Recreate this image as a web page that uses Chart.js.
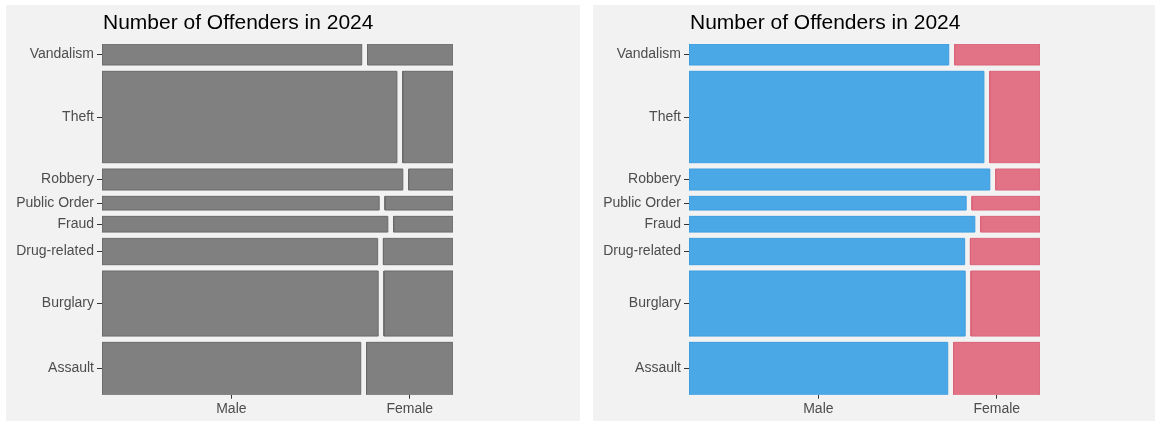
<!DOCTYPE html>
<html>
<head>
<meta charset="utf-8">
<script src="https://cdn.jsdelivr.net/npm/chart.js@4.4.1/dist/chart.umd.min.js"></script>
<style>
  body { margin: 0; background: #fff; width: 1159px; height: 421px; overflow: hidden; position: relative; }
  .panel { position: absolute; top: 5px; height: 416px; background: #f2f2f2; }
  #left { left: 6px; width: 574px; }
  #right { left: 593px; width: 562px; }
  canvas { display: block; }
</style>
</head>
<body>
<div class="panel" id="left"><canvas id="chart1" width="574" height="416"></canvas></div>
<div class="panel" id="right"><canvas id="chart2" width="562" height="416"></canvas></div>
<script>
// rows from bottom to top
const categories = ['Assault', 'Burglary', 'Drug-related', 'Fraud', 'Public Order', 'Robbery', 'Theft', 'Vandalism'];
const maleCounts = [392, 520, 210, 130, 110, 183, 780, 158];
const femaleCounts = [131, 130, 53, 27, 27, 27, 133, 52];
const genders = ['Male', 'Female'];
const chartTitle = 'Number of Offenders in 2024';

const fontFamily = '"Liberation Sans", Arial, Helvetica, sans-serif';
const gapX = 0.0165;
const gapY = 0.018;

const grandTotal = maleCounts.reduce((a, b) => a + b, 0) + femaleCounts.reduce((a, b) => a + b, 0);
const usableY = 1 - gapY * (categories.length - 1);

// build the mosaic tiles from the counts
const tiles = [];
const rowCenters = [];
let cum = 0;
categories.forEach((cat, i) => {
    const total = maleCounts[i] + femaleCounts[i];
    const h = total / grandTotal * usableY;
    const split = maleCounts[i] / total * (1 - gapX);
    tiles.push({ gender: 0, x0: 0, x1: split, y0: cum, y1: cum + h });
    tiles.push({ gender: 1, x0: split + gapX, x1: 1, y0: cum, y1: cum + h });
    rowCenters.push(cum + h / 2);
    cum += h + gapY;
});

// x axis ticks sit under the bottom row
const xTicks = [tiles[0].x1 / 2, (tiles[1].x0 + tiles[1].x1) / 2];

const titlePlugin = {
    id: 'panelTitle',
    afterDraw(chart) {
        const ctx = chart.ctx;
        ctx.save();
        ctx.font = '21px ' + fontFamily;
        ctx.fillStyle = '#000';
        ctx.textBaseline = 'alphabetic';
        ctx.textAlign = 'left';
        ctx.fillText(chartTitle, chart.chartArea.left + 1, 23.5);
        ctx.restore();
    }
};

function makeChart(id, fills, borders, rightPad) {
    const datasets = tiles.map(t => ({
        data: [
            { x: t.x0, y: t.y0 }, { x: t.x1, y: t.y0 },
            { x: t.x1, y: t.y1 }, { x: t.x0, y: t.y1 }, { x: t.x0, y: t.y0 }
        ],
        showLine: true,
        fill: 'shape',
        backgroundColor: fills[t.gender],
        borderColor: borders[t.gender],
        borderWidth: 1,
        pointRadius: 0,
        tension: 0
    }));

    new Chart(document.getElementById(id), {
        type: 'scatter',
        data: { datasets },
        options: {
            responsive: false,
            animation: false,
            events: [],
            layout: { padding: { top: 39, right: rightPad, left: 0, bottom: 0 } },
            plugins: {
                legend: { display: false },
                tooltip: { enabled: false }
            },
            scales: {
                x: {
                    type: 'linear', min: 0, max: 1,
                    afterBuildTicks: s => { s.ticks = xTicks.map(v => ({ value: v })); },
                    afterFit: s => { s.height = 26.3; },
                    border: { display: false },
                    grid: { drawOnChartArea: false, tickLength: 4, tickColor: '#333333' },
                    ticks: {
                        autoSkip: false, maxRotation: 0, padding: 2,
                        color: '#4d4d4d', font: { family: fontFamily, size: 14 },
                        callback: (v, i) => genders[i]
                    }
                },
                y: {
                    type: 'linear', min: 0, max: 1,
                    afterBuildTicks: s => { s.ticks = rowCenters.map(v => ({ value: v })); },
                    afterFit: s => { s.width = 96; },
                    border: { display: false },
                    grid: { drawOnChartArea: false, tickLength: 5, tickColor: '#333333' },
                    ticks: {
                        autoSkip: false, padding: 3,
                        color: '#4d4d4d', font: { family: fontFamily, size: 14 },
                        callback: (v, i) => categories[i]
                    }
                }
            }
        },
        plugins: [titlePlugin]
    });
}

makeChart('chart1', ['#808080', '#808080'], ['#6a6a6a', '#6a6a6a'], 127);
makeChart('chart2', ['#4ba8e6', '#e27386'], ['#3d9de0', '#db647a'], 115);
</script>
</body>
</html>
